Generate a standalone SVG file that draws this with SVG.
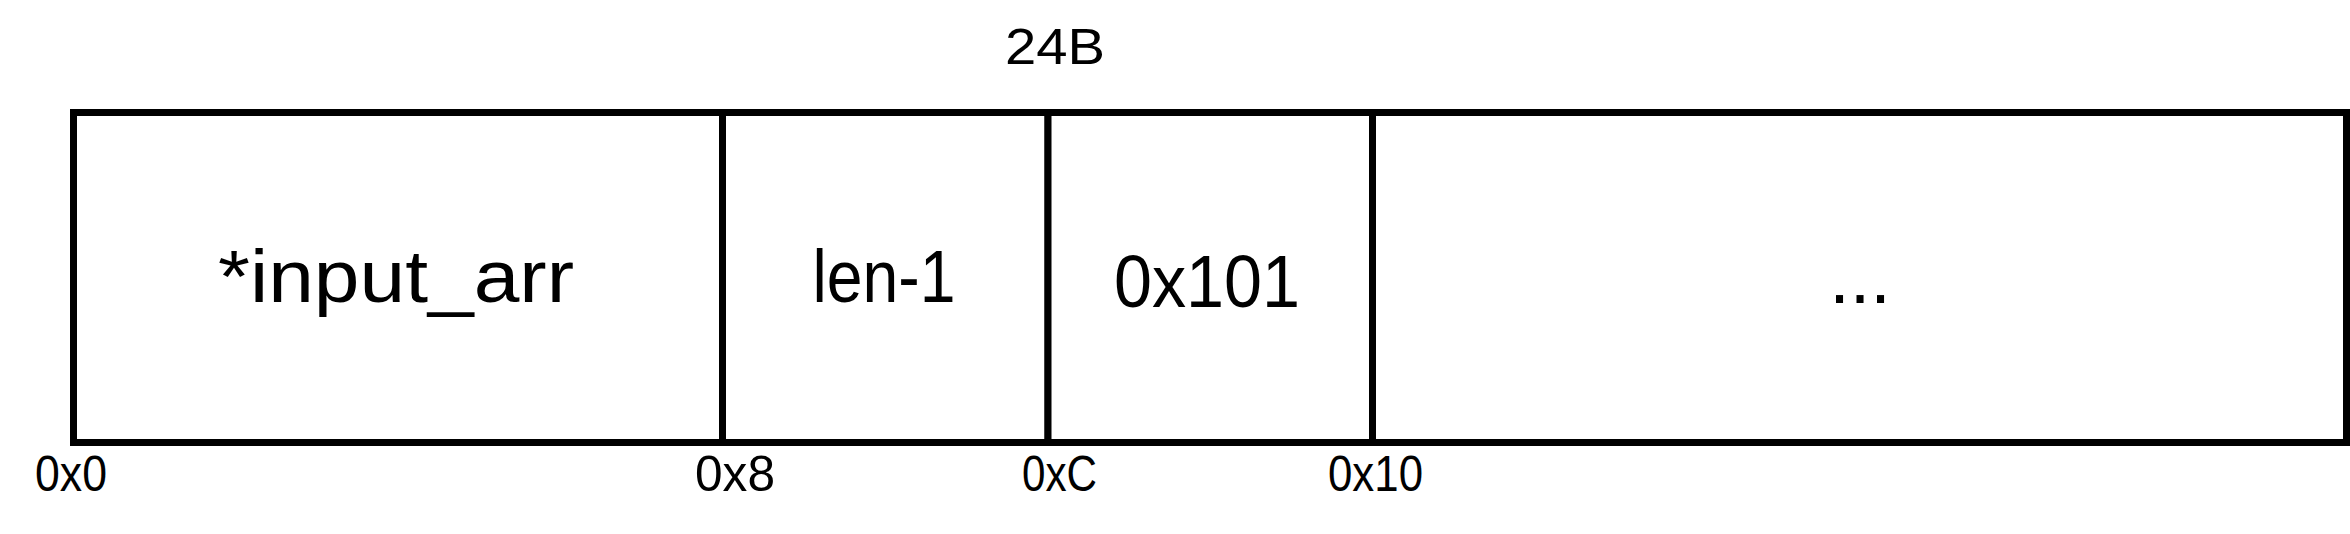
<svg xmlns="http://www.w3.org/2000/svg" width="2350" height="534" viewBox="0 0 2350 534">
  <style>
    .cell { fill: #ffffff; stroke: #000000; stroke-width: 7; }
    .big { font-family: "Liberation Sans", Arial, sans-serif; font-size: 74px; fill: #000000; text-anchor: middle; }
    .small { font-family: "Liberation Sans", Arial, sans-serif; font-size: 50px; fill: #000000; }
  </style>
  <rect x="0" y="0" width="2350" height="534" fill="#ffffff"/>
  <text id="size-label" class="small" x="1005" y="64" textLength="100" lengthAdjust="spacingAndGlyphs">24B</text>
  <g id="cell-input-arr">
    <rect class="cell" x="73.5" y="112.5" width="649" height="330"/>
    <text class="big" x="396" y="302" textLength="356" lengthAdjust="spacingAndGlyphs">*input_arr</text>
  </g>
  <g id="cell-len">
    <rect class="cell" x="722.5" y="112.5" width="325.5" height="330"/>
    <text class="big" x="884" y="302" textLength="143" lengthAdjust="spacingAndGlyphs">len-1</text>
  </g>
  <g id="cell-0x101">
    <rect class="cell" x="1048" y="112.5" width="324.5" height="330"/>
    <text class="big" x="1207" y="307" textLength="186" lengthAdjust="spacingAndGlyphs">0x101</text>
  </g>
  <g id="cell-rest">
    <rect class="cell" x="1372.5" y="112.5" width="974" height="330"/>
    <text class="big" x="1860" y="303">...</text>
  </g>
  <g id="connectors"></g>
  <g id="offsets">
    <text class="small" x="35" y="491" textLength="72" lengthAdjust="spacingAndGlyphs">0x0</text>
    <text class="small" x="695" y="491" textLength="80" lengthAdjust="spacingAndGlyphs">0x8</text>
    <text class="small" x="1022" y="491" textLength="75" lengthAdjust="spacingAndGlyphs">0xC</text>
    <text class="small" x="1328" y="491" textLength="95" lengthAdjust="spacingAndGlyphs">0x10</text>
  </g>
</svg>
